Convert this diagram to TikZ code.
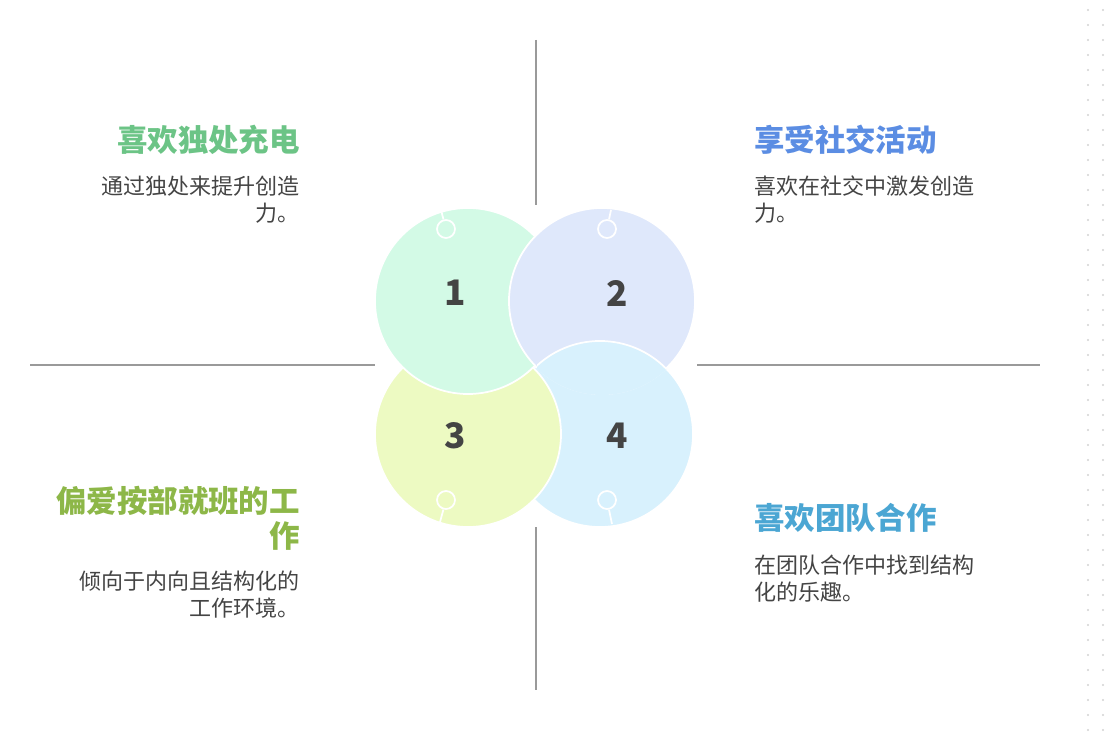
\documentclass[tikz,border=0pt]{standalone}
\usepackage{fontspec}
\setmainfont{Noto Sans CJK SC}
\usetikzlibrary{positioning}
\definecolor{ringA}{HTML}{D3FAE6}
\definecolor{ringB}{HTML}{DFE8FB}
\definecolor{ringC}{HTML}{EDFAC2}
\definecolor{ringD}{HTML}{D8F1FD}
\definecolor{titleA}{HTML}{6CC486}
\definecolor{titleB}{HTML}{5B8DE3}
\definecolor{titleC}{HTML}{8DB748}
\definecolor{titleD}{HTML}{4BA6D3}
\definecolor{axis}{HTML}{9A9A9A}
\definecolor{bodytext}{HTML}{444444}

\begin{document}
\begin{tikzpicture}[x=0.03cm, y=-0.03cm,
    ring/.style={circle, draw=white, line width=1.5pt, fill=#1, minimum size=186*0.03cm, inner sep=0pt},
    num/.style={font=\fontsize{30}{30}\selectfont\bfseries, text=bodytext},
    pin/.style={circle, draw=white, line width=1.5pt, minimum size=18*0.03cm, inner sep=0pt},
    axisline/.style={draw=axis, line width=1.3pt},
    title/.style={font=\fontsize{26}{30}\selectfont\bfseries, text=#1},
    desc/.style={font=\fontsize{18.8}{23}\selectfont, text=bodytext}
]
\useasboundingbox (0,0) rectangle (1110,734);

% Dotted edge
\foreach \yy in {10,25,...,730} {
  \fill[gray!35] (1088,\yy) circle (0.9pt);
  \fill[gray!35] (1103,\yy) circle (0.9pt);
}

% Axes
\coordinate (topA) at (536,40);   \coordinate (topB) at (536,205);
\coordinate (botA) at (536,527);  \coordinate (botB) at (536,690);
\coordinate (lefA) at (30,365);   \coordinate (lefB) at (375,365);
\coordinate (rigA) at (697,365);  \coordinate (rigB) at (1040,365);
\draw[axisline] (topA) -- (topB);
\draw[axisline] (botA) -- (botB);
\draw[axisline] (lefA) -- (lefB);
\draw[axisline] (rigA) -- (rigB);

% Rings
\node[ring=ringD] (four) at (600,434) {};
\node[ring=ringC] (three) at (468,434) {};
\node[ring=ringA] (one) at (468,301) {};
\node[ring=ringB] (two) at (602,301) {};
\begin{scope}
  \clip (602,301) circle (94*0.03cm);
  \clip (537,320) rectangle (720,560);
  \node[ring=ringD] (fourtop) at (600,434) {};
\end{scope}

\node[num] (numone) at (455,293) {1};
\node[num] (numtwo) at (617,293) {2};
\node[num] (numthree) at (455,436) {3};
\node[num] (numfour) at (617,436) {4};

% Pins
\node[pin] (pinone) at (446,229) {};
\node[pin] (pintwo) at (607,229) {};
\node[pin] (pinthree) at (446,500) {};
\node[pin] (pinfour) at (607,500) {};
\coordinate (endone) at (441,210);
\coordinate (endtwo) at (611,210);
\coordinate (endthree) at (440,522);
\coordinate (endfour) at (612,524);
\draw[white, line width=1.5pt] (pinone) -- (endone);
\draw[white, line width=1.5pt] (pintwo) -- (endtwo);
\draw[white, line width=1.5pt] (pinthree) -- (endthree);
\draw[white, line width=1.5pt] (pinfour) -- (endfour);

% Texts
\node[title=titleA, anchor=east] (tA) at (304,140) {喜欢独处充电};
\node[desc, anchor=north east, align=right] (dA) at (304,172) {通过独处来提升创造\\力。};
\node[title=titleB, anchor=west] (tB) at (750,140) {享受社交活动};
\node[desc, anchor=north west, align=left] (dB) at (750,172) {喜欢在社交中激发创造\\力。};
\node[title=titleC, anchor=north east, align=right] (tC) at (304,482) {偏爱按部就班的工\\作};
\node[desc, anchor=north east, align=right] (dC) at (304,567) {倾向于内向且结构化的\\工作环境。};
\node[title=titleD, anchor=west] (tD) at (750,518) {喜欢团队合作};
\node[desc, anchor=north west, align=left] (dD) at (750,551) {在团队合作中找到结构\\化的乐趣。};
\end{tikzpicture}
\end{document}
